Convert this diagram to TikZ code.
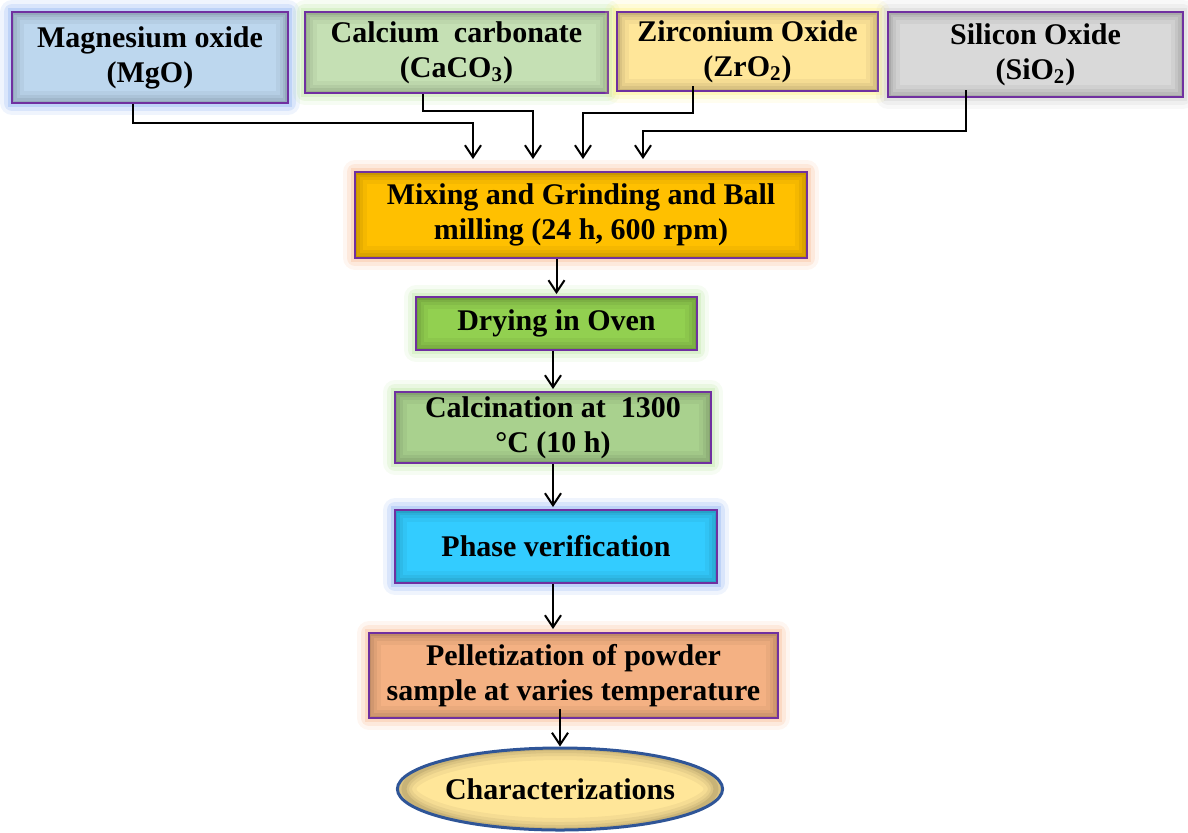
\documentclass[tikz,border=0pt]{standalone}
\usepackage{fontspec}
\setmainfont{Liberation Serif}
\usetikzlibrary{calc}
\usetikzlibrary{positioning}
\usetikzlibrary{shapes.geometric}
\usetikzlibrary{arrows.meta}
\definecolor{edgepurple}{HTML}{7030A0}
\definecolor{edgeblue}{HTML}{2F5597}
\definecolor{fillMgO}{HTML}{BDD7EE}
\definecolor{fillCa}{HTML}{C5E0B4}
\definecolor{fillZr}{HTML}{FFE699}
\definecolor{fillSi}{HTML}{D9D9D9}
\definecolor{fillMix}{HTML}{FFC000}
\definecolor{fillDry}{HTML}{92D050}
\definecolor{fillCal}{HTML}{A9D18E}
\definecolor{fillPhase}{HTML}{33CCFF}
\definecolor{fillPel}{HTML}{F4B183}
\definecolor{glowBlue}{HTML}{7FA8F0}
\definecolor{glowGreen}{HTML}{B6E39A}
\definecolor{glowYellow}{HTML}{FFF07A}
\definecolor{glowGrey}{HTML}{C8C8C8}
\definecolor{glowOrange}{HTML}{F8B48A}
\tikzstyle{stepnode} = [draw=edgepurple, line width=1pt, rectangle, align=center, inner sep=0pt, font=\fontsize{15}{17.5}\selectfont\bfseries]
\tikzstyle{flow} = [-{Straight Barb[length=6pt,width=8pt,line width=1pt]}, line width=1pt, line join=miter]
\tikzset{
  glow/.style={
    preaction={draw=#1, draw opacity=0.12, line width=12pt, line join=round},
    preaction={draw=#1, draw opacity=0.2, line width=8pt, line join=round},
    preaction={draw=#1, draw opacity=0.3, line width=4pt}},
  shade in/.style={path picture={
    \foreach \w/\o in {12pt/0.04, 8pt/0.05, 5pt/0.06, 2.5pt/0.08}
      \draw[black, opacity=\o, line width=\w] (path picture bounding box.south west) rectangle (path picture bounding box.north east);}}
}

\begin{document}
\begin{tikzpicture}[x=0.5pt, y=0.5pt]
    \useasboundingbox (-581,215) rectangle (607,-617);

    % process chain
    \node[stepnode, glow=glowOrange, shade in, fill=fillMix, minimum width=226pt, minimum height=43pt] (mix) at (0,0)
{Mixing and Grinding and Ball\\milling (24 h, 600 rpm)};
    \node[stepnode, glow=glowGreen, shade in, fill=fillDry, minimum width=140.5pt, minimum height=26.5pt] (dry) at ($(mix)+(-24.5,-108.5)$)
{Drying in Oven};
    \node[stepnode, glow=glowGreen, shade in, fill=fillCal, minimum width=158pt, minimum height=35.5pt] (calc) at ($(dry)+(-3.5,-104)$)
{Calcination at\ \ 1300\\°C (10 h)};
    \node[stepnode, glow=glowBlue, shade in, fill=fillPhase, minimum width=161pt, minimum height=36.5pt] (phase) at ($(calc)+(3,-119)$)
{Phase verification};
    \node[stepnode, glow=glowOrange, shade in, fill=fillPel, minimum width=204.5pt, minimum height=42.5pt] (pellet) at ($(phase)+(17.5,-129)$)
{Pelletization of powder\\sample at varies temperature};
    \node[stepnode, ellipse, draw=edgeblue, line width=1.5pt, fill=fillZr, minimum width=156pt, minimum height=41pt,
      path picture={\foreach \w/\o in {12pt/0.04, 8pt/0.05, 5pt/0.06, 2.5pt/0.08}
        \draw[black, opacity=\o, line width=\w] (path picture bounding box.center) ellipse [x radius=78pt, y radius=20.5pt];}] (char) at ($(pellet)+(-13.5,-113.5)$)
{Characterizations};

    % raw materials
    \node[stepnode, glow=glowBlue, shade in, fill=fillMgO, minimum width=138pt, minimum height=45.5pt] (mgo) at ($(mix)+(-431,157.5)$)
{Magnesium oxide\\(MgO)};
    \node[stepnode, glow=glowGreen, shade in, fill=fillCa, minimum width=151.5pt, minimum height=40.5pt] (caco) at ($(mix)+(-124.5,162.5)$)
{Calcium\ \ carbonate\\(CaCO\textsubscript{3})};
    \node[stepnode, glow=glowYellow, shade in, fill=fillZr, minimum width=130.5pt, minimum height=39.5pt] (zro) at ($(mix)+(166.5,163.5)$)
{Zirconium Oxide\\(ZrO\textsubscript{2})};
    \node[stepnode, glow=glowGrey, shade in, fill=fillSi, minimum width=147.5pt, minimum height=42.5pt] (sio) at ($(mix)+(454.5,160.5)$)
{Silicon Oxide\\(SiO\textsubscript{2})};

    \draw[flow] ($(mgo.south)+(-17,0)$) -- ++(0,-19) -| ($(mix.north)+(-108,12)$);
    \draw[flow] ($(caco.south)+(-33.5,0)$) -- ++(0,-17) -| ($(mix.north)+(-48,12)$);
    \draw[flow] ($(zro.south)+(-54.5,6)$) -- ++(0,-27) -| ($(mix.north)+(2,12)$);
    \draw[flow] ($(sio.south)+(-69.5,8)$) -- ++(0,-41) -| ($(mix.north)+(62,12)$);

    \draw[flow] (dry.north |- mix.south) -- ($(dry.north)+(0,2)$);
    \draw[flow] (calc.north |- dry.south) -- ($(calc.north)+(0,2)$);
    \draw[flow] (calc.south) -- ($(calc.south |- phase.north)+(0,2)$);
    \draw[flow] (calc.south |- phase.south) -- ($(calc.south |- pellet.north)+(0,3)$);
    \draw[flow] ($(char.north |- pellet.south)+(0,10)$) -- (char.north);
\end{tikzpicture}
\end{document}
